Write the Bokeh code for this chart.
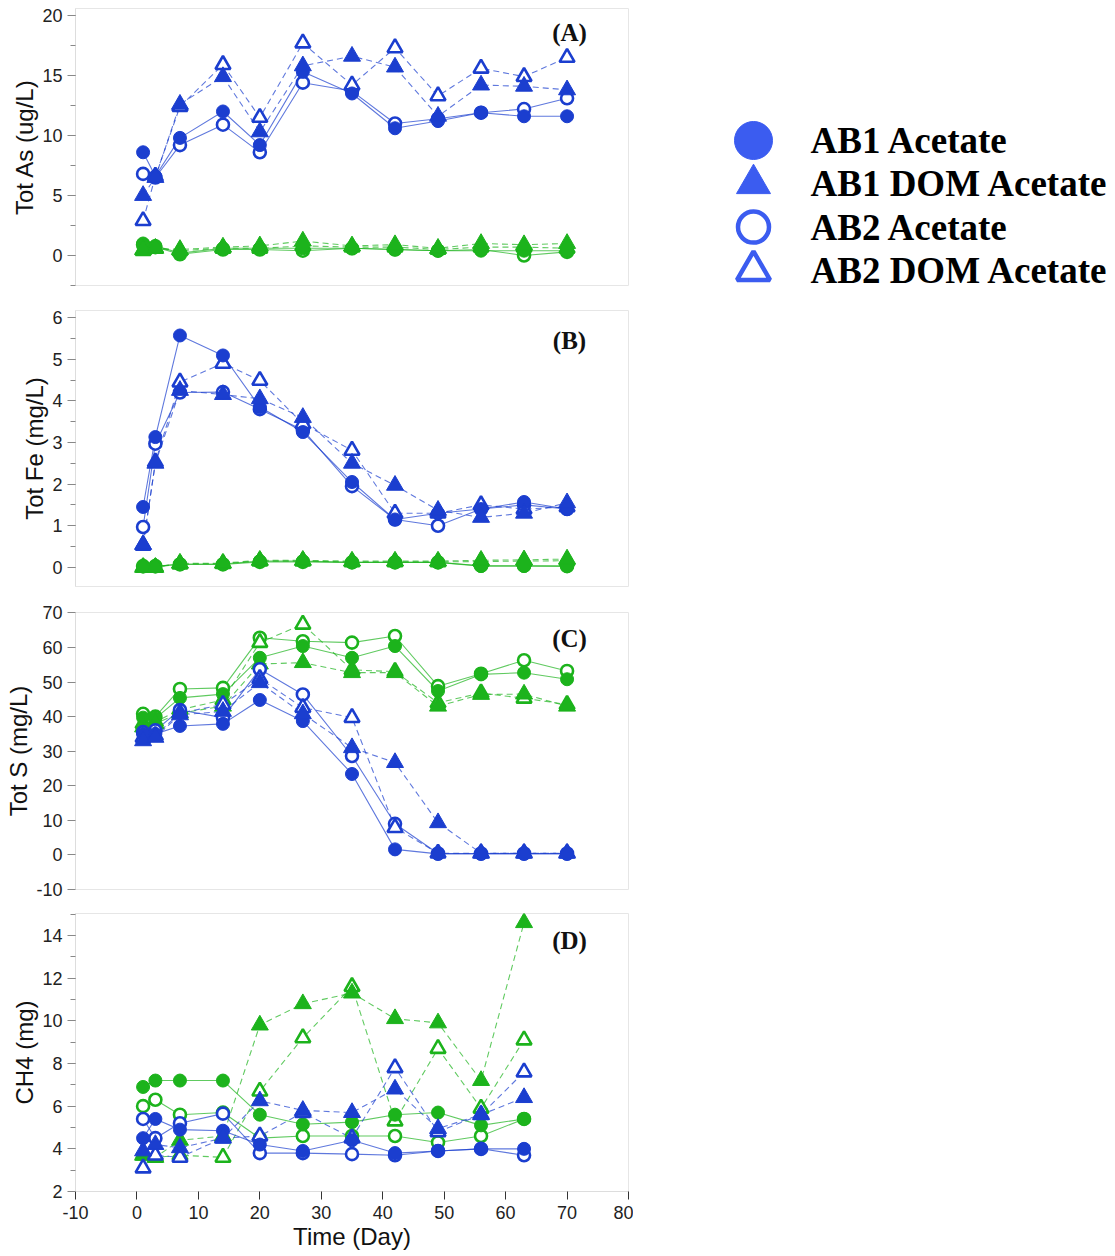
from bokeh.plotting import figure
from bokeh.layouts import column, row
from bokeh.models import Range1d, SingleIntervalTicker, Label, PrintfTickFormatter
from bokeh.embed import file_html
from bokeh.resources import INLINE
from bokeh.core.properties import value

# ---------------- data ----------------
DAYS = [1, 3, 7, 14, 20, 27, 35, 42, 49, 56, 63, 70]
DAYS_CH4 = [1, 3, 7, 14, 20, 27, 35, 42, 49, 56, 63]
SERIES = ["AB1 Acetate", "AB1 DOM Acetate", "AB2 Acetate", "AB2 DOM Acetate"]
X_TICKS = [-10, 0, 10, 20, 30, 40, 50, 60, 70, 80]

# (A) Tot As (ug/L)
AS_BLUE_AB1_ACE = [8.6, 6.6, 9.8, 12.0, 9.2, 15.3, 13.5, 10.6, 11.2, 11.9, 11.6, 11.6]
AS_BLUE_AB1_DOM = [5.0, 6.5, 12.6, 14.9, 10.3, 15.8, 16.6, 15.7, 11.6, 14.2, 14.1, 13.8]
AS_BLUE_AB2_ACE = [6.8, 6.5, 9.2, 10.9, 8.6, 14.4, 13.7, 11.0, 11.4, 11.9, 12.2, 13.1]
AS_BLUE_AB2_DOM = [2.9, 6.6, 12.4, 15.9, 11.5, 17.7, 14.2, 17.3, 13.3, 15.6, 14.9, 16.5]
AS_GREEN_AB1_ACE = [1.0, 0.8, 0.2, 0.6, 0.6, 0.6, 0.6, 0.5, 0.4, 0.4, 0.4, 0.4]
AS_GREEN_AB1_DOM = [0.5, 0.6, 0.5, 0.7, 0.8, 1.2, 0.8, 0.9, 0.6, 1.0, 0.9, 1.0]
AS_GREEN_AB2_ACE = [0.9, 0.7, 0.1, 0.5, 0.5, 0.4, 0.6, 0.5, 0.4, 0.5, 0.0, 0.3]
AS_GREEN_AB2_DOM = [0.4, 0.6, 0.4, 0.6, 0.6, 0.8, 0.7, 0.7, 0.5, 0.7, 0.7, 0.6]

# (B) Tot Fe (mg/L)
FE_BLUE_AB1_ACE = [1.45, 3.13, 5.57, 5.09, 3.85, 3.25, 2.05, 1.15, 1.3, 1.4, 1.57, 1.4]
FE_BLUE_AB1_DOM = [0.55, 2.5, 4.25, 4.15, 4.05, 3.6, 2.5, 1.97, 1.37, 1.2, 1.3, 1.55]
FE_BLUE_AB2_ACE = [0.97, 2.97, 4.2, 4.21, 3.8, 3.3, 1.95, 1.15, 1.0, 1.4, 1.5, 1.4]
FE_BLUE_AB2_DOM = [0.53, 2.53, 4.45, 4.9, 4.49, 3.45, 2.81, 1.3, 1.3, 1.5, 1.4, 1.45]
FE_GREEN_AB1_ACE = [0.02, 0.02, 0.08, 0.08, 0.15, 0.15, 0.12, 0.12, 0.12, 0.03, 0.03, 0.03]
FE_GREEN_AB1_DOM = [0.0, 0.0, 0.1, 0.1, 0.17, 0.17, 0.15, 0.15, 0.15, 0.17, 0.18, 0.2]
FE_GREEN_AB2_ACE = [0.03, 0.03, 0.07, 0.07, 0.13, 0.13, 0.12, 0.12, 0.12, 0.04, 0.04, 0.03]
FE_GREEN_AB2_DOM = [0.0, 0.0, 0.08, 0.09, 0.15, 0.15, 0.13, 0.13, 0.13, 0.14, 0.15, 0.16]

# (C) Tot S (mg/L)
S_BLUE_AB1_ACE = [35.0, 35.0, 37.3, 37.9, 44.8, 38.7, 23.4, 1.6, 0.3, 0.3, 0.3, 0.3]
S_BLUE_AB1_DOM = [33.0, 34.0, 40.5, 41.5, 49.8, 40.8, 31.0, 26.7, 9.3, 0.5, 0.5, 0.5]
S_BLUE_AB2_ACE = [35.5, 36.0, 41.9, 39.7, 53.7, 46.4, 28.6, 9.0, 0.4, 0.4, 0.4, 0.4]
S_BLUE_AB2_DOM = [34.0, 34.5, 41.0, 43.5, 51.0, 42.6, 39.7, 7.9, 0.5, 0.5, 0.5, 0.5]
S_GREEN_AB1_ACE = [39.7, 39.5, 45.4, 46.5, 57.0, 60.4, 57.0, 60.4, 47.4, 52.2, 52.7, 50.8]
S_GREEN_AB1_DOM = [37.0, 38.0, 41.0, 43.0, 55.2, 55.6, 52.7, 52.7, 43.0, 46.4, 46.5, 43.0]
S_GREEN_AB2_ACE = [40.8, 40.0, 48.0, 48.3, 62.8, 61.8, 61.4, 63.3, 48.8, 52.4, 56.3, 53.2]
S_GREEN_AB2_DOM = [38.0, 38.5, 42.0, 44.8, 61.4, 66.7, 53.5, 53.0, 44.0, 46.8, 45.3, 43.5]

# (D) CH4 (mg)
CH4_BLUE_AB1_ACE = [4.5, 5.4, 4.9, 4.85, 4.2, 3.9, 4.4, 3.8, 3.9, 4.0, 4.0]
CH4_BLUE_AB1_DOM = [3.9, 4.2, 4.05, 4.5, 6.25, 5.8, 5.7, 6.8, 4.95, 5.6, 6.4]
CH4_BLUE_AB2_ACE = [5.4, 4.5, 5.2, 5.65, 3.8, 3.8, 3.75, 3.7, 3.9, 4.0, 3.7]
CH4_BLUE_AB2_DOM = [3.1, 3.7, 3.6, 4.5, 4.6, 5.7, 4.5, 7.8, 4.8, 5.6, 7.6]
CH4_GREEN_AB1_ACE = [6.9, 7.2, 7.2, 7.2, 5.6, 5.15, 5.25, 5.6, 5.7, 5.1, 5.4]
CH4_GREEN_AB1_DOM = [3.7, 3.6, 4.4, 4.6, 9.8, 10.8, 11.3, 10.1, 9.9, 7.2, 14.6]
CH4_GREEN_AB2_ACE = [6.0, 6.3, 5.6, 5.7, 4.5, 4.6, 4.6, 4.6, 4.3, 4.6, 5.4]
CH4_GREEN_AB2_DOM = [3.7, 3.6, 3.7, 3.6, 6.7, 9.2, 11.6, 5.3, 8.7, 5.9, 9.1]

# ---------------- style ----------------
BLUE = "#1b3ecf"
GREEN = "#1cb31c"
LEGEND_BLUE = "#3b5cf0"
# marker, filled, dash  (same order as SERIES)
STYLES = [("circle", True, "solid"), ("triangle", True, "6 4"),
          ("circle", False, "solid"), ("triangle", False, "6 4")]
SANS = "Liberation Sans"
SERIF = "Liberation Serif"


def style_axis(ax, tick_color):
    ax.axis_label_text_font = SANS
    ax.axis_label_text_font_style = "normal"
    ax.axis_label_text_font_size = "24px"
    ax.axis_label_text_color = "#111111"
    ax.major_label_text_font = SANS
    ax.major_label_text_font_size = "18px"
    ax.major_label_text_color = "#222222"
    ax.axis_line_color = "#dddddd"
    ax.major_tick_line_color = tick_color
    ax.minor_tick_line_color = tick_color
    ax.major_tick_out = 8
    ax.major_tick_in = 0
    ax.minor_tick_out = 5
    ax.minor_tick_in = 0
    ax.formatter = PrintfTickFormatter(format="%d")


def make_panel(ylabel, yr, interval, minor, blue, green, days, tag, tag_y,
               top, frame_h, bottom, with_x=False):
    p = figure(frame_width=553, frame_height=frame_h,
               x_range=Range1d(-10, 80), y_range=Range1d(*yr),
               output_backend="svg", toolbar_location=None,
               x_axis_location="below" if with_x else None,
               min_border_left=75, min_border_right=5,
               min_border_top=top, min_border_bottom=bottom)
    p.grid.visible = False
    p.outline_line_color = "#e6e6e6"
    p.background_fill_color = "white"
    p.border_fill_color = "white"

    ax = p.yaxis[0]
    ax.ticker = SingleIntervalTicker(interval=interval, num_minor_ticks=minor)
    ax.axis_label = ylabel
    style_axis(ax, "#888888")
    ax.axis_label_standoff = 1
    ax.major_label_standoff = 5

    if with_x:
        xa = p.xaxis[0]
        xa.ticker = X_TICKS
        xa.axis_label = "Time (Day)"
        style_axis(xa, "#333333")
        xa.axis_label_standoff = 1
        xa.major_label_standoff = 6

    # lines first
    for color, sets in ((GREEN, green), (BLUE, blue)):
        for vals, (marker, filled, dash) in zip(sets, STYLES):
            p.line(days, vals, line_color=color, line_alpha=0.7,
                   line_width=1.1, line_dash=dash)
    # markers: open first, then filled
    for color, sets in ((GREEN, green), (BLUE, blue)):
        for want_filled in (False, True):
            for vals, (marker, filled, dash) in zip(sets, STYLES):
                if filled != want_filled:
                    continue
                if filled:
                    size = 13 if marker == "circle" else 17
                    p.scatter(days, vals, marker=marker, size=size,
                              fill_color=color, line_color=color, line_width=1)
                else:
                    size = 12 if marker == "circle" else 15
                    p.scatter(days, vals, marker=marker, size=size,
                              fill_color="white", line_color=color, line_width=2.6)

    p.add_layout(Label(x=70.4, y=tag_y, text=tag, text_font=SERIF,
                       text_font_style="bold", text_font_size="25px",
                       text_align="center", text_baseline="middle",
                       text_color="#111111"))
    return p


pA = make_panel("Tot As (ug/L)", (-2.5, 20.58), 5, 2,
                [AS_BLUE_AB1_ACE, AS_BLUE_AB1_DOM, AS_BLUE_AB2_ACE, AS_BLUE_AB2_DOM],
                [AS_GREEN_AB1_ACE, AS_GREEN_AB1_DOM, AS_GREEN_AB2_ACE, AS_GREEN_AB2_DOM],
                DAYS, "(A)", 18.6, 8, 277, 12)
pB = make_panel("Tot Fe (mg/L)", (-0.46, 6.17), 1, 2,
                [FE_BLUE_AB1_ACE, FE_BLUE_AB1_DOM, FE_BLUE_AB2_ACE, FE_BLUE_AB2_DOM],
                [FE_GREEN_AB1_ACE, FE_GREEN_AB1_DOM, FE_GREEN_AB2_ACE, FE_GREEN_AB2_DOM],
                DAYS, "(B)", 5.45, 13, 276, 13)
pC = make_panel("Tot S (mg/L)", (-10, 70.1), 10, 0,
                [S_BLUE_AB1_ACE, S_BLUE_AB1_DOM, S_BLUE_AB2_ACE, S_BLUE_AB2_DOM],
                [S_GREEN_AB1_ACE, S_GREEN_AB1_DOM, S_GREEN_AB2_ACE, S_GREEN_AB2_DOM],
                DAYS, "(C)", 62.5, 13, 277, 12)
pD = make_panel("CH4 (mg)", (2, 15.03), 2, 2,
                [CH4_BLUE_AB1_ACE, CH4_BLUE_AB1_DOM, CH4_BLUE_AB2_ACE, CH4_BLUE_AB2_DOM],
                [CH4_GREEN_AB1_ACE, CH4_GREEN_AB1_DOM, CH4_GREEN_AB2_ACE, CH4_GREEN_AB2_DOM],
                DAYS_CH4, "(D)", 13.75, 12, 278, 0, with_x=True)

# ---------------- legend panel ----------------
LW, LH = 480, 310
leg = figure(width=LW, height=LH, x_range=Range1d(0, LW), y_range=Range1d(LH, 0),
             output_backend="svg", toolbar_location=None,
             x_axis_location=None, y_axis_location=None,
             min_border=0, outline_line_color=None)
leg.grid.visible = False
row_y = [140 + 43.3 * i for i in range(len(SERIES))]
for i, (name, (marker, filled, dash)) in enumerate(zip(SERIES, STYLES)):
    if filled:
        leg.scatter([120], [row_y[i]], marker=marker,
                    size=38 if marker == "circle" else 34,
                    fill_color=LEGEND_BLUE, line_color=LEGEND_BLUE, line_width=1)
    else:
        leg.scatter([120], [row_y[i]], marker=marker,
                    size=31 if marker == "circle" else 33,
                    fill_color="white", line_color=LEGEND_BLUE, line_width=4.5)
leg.text(x=[177] * len(SERIES), y=row_y, text=SERIES,
         text_font=value(SERIF), text_font_style="bold", text_font_size="37px",
         text_baseline="middle", text_align="left", text_color="#000000")

layout = row(column(pA, pB, pC, pD), leg)
open("out.html", "w").write(file_html(layout, INLINE))
